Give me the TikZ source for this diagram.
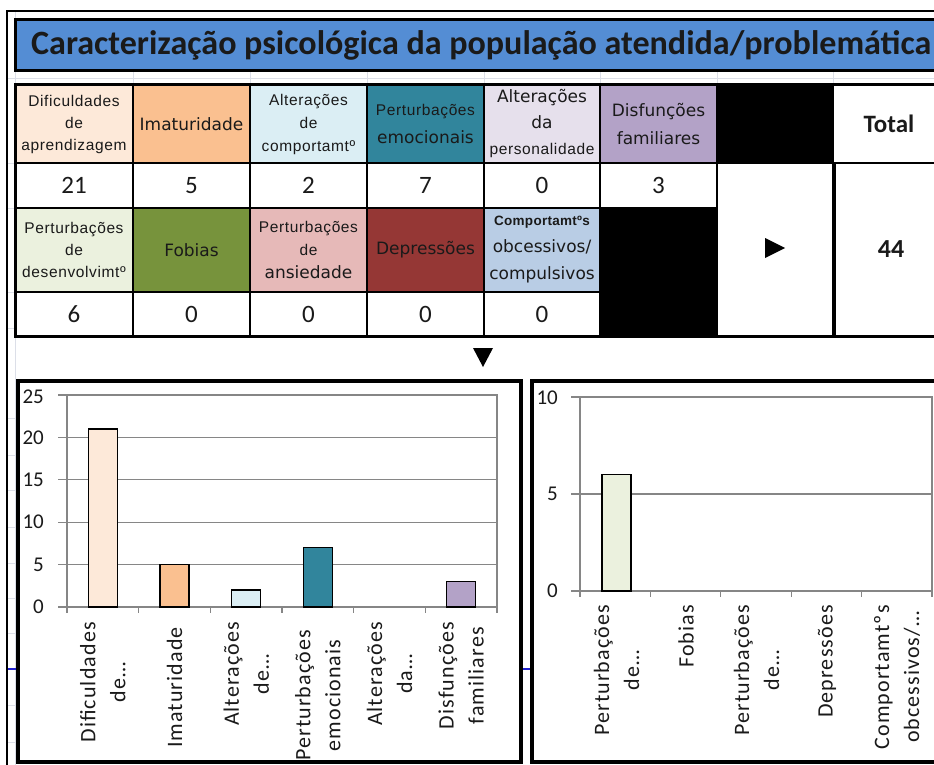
\documentclass[tikz,border=0pt]{standalone}
\usepackage{fontspec}
\usepackage{graphicx}
\setmainfont{Carlito}
\newfontfamily\arialf[LetterSpace=4]{Liberation Sans}
\newfontfamily\verdf{DejaVu Sans}
\newfontfamily\clabf[LetterSpace=5]{Carlito}
\newcommand\na{\arialf\fontsize{15.5}{22}\selectfont}
\newcommand\nv{\verdf\fontsize{17}{22}\selectfont}
\newcommand\nb{\fontspec{Liberation Sans}[LetterSpace=2]\bfseries\fontsize{13.5}{22}\selectfont}
\definecolor{titleblue}{HTML}{548DD4}
\definecolor{cA}{HTML}{FDE9D9}
\definecolor{cB}{HTML}{FAC090}
\definecolor{cC}{HTML}{DBEEF4}
\definecolor{cD}{HTML}{31859C}
\definecolor{cE}{HTML}{E6E0EC}
\definecolor{cF}{HTML}{B3A2C7}
\definecolor{cG}{HTML}{EBF1DE}
\definecolor{cH}{HTML}{77933C}
\definecolor{cI}{HTML}{E6B9B8}
\definecolor{cJ}{HTML}{953735}
\definecolor{cK}{HTML}{B9CDE5}
\definecolor{txt}{HTML}{1A1A1A}
\definecolor{axisgray}{HTML}{868686}
\definecolor{bggrid}{HTML}{DCDFE8}
\definecolor{pagebreak}{HTML}{2020D0}
\begin{document}
\begin{tikzpicture}[x=1pt,y=-1pt,
  bggridline/.style={draw=bggrid,line width=0.8pt},
  hdr/.style={draw=black,line width=2.5pt,inner sep=0pt,align=center,text=txt},
  val/.style={draw=black,line width=1.5pt,inner sep=0pt,text=txt,font=\fontsize{25}{25}\selectfont},
  chartframe/.style={draw=black,line width=4pt,fill=white},
  plotbox/.style={draw=axisgray,line width=1.2pt},
  gridln/.style={draw=axisgray,line width=1.2pt},
  barst/.style={draw=black,line width=1.5pt},
  ylab/.style={anchor=east,inner sep=0pt,text=txt,font=\fontsize{21}{21}\selectfont},
  clab/.style={rotate=90,anchor=east,align=center,inner sep=0pt,text=txt,font=\clabf\fontsize{22}{30}\selectfont}]
\useasboundingbox (0,0) rectangle (934,765);
% spreadsheet background
\draw[bggridline] (15,11) -- (15,765);
\draw[bggridline] (7,78) -- (950,78);
\foreach \x in {133,250,367,484,600,717,833} \draw[bggridline] (\x,71) -- (\x,85);
\foreach \y in {163,208,292,328,418,455,490,527,563,598,633,705,742} \draw[bggridline] (7,\y) -- (15,\y);
\draw[draw=pagebreak,line width=2pt] (7,669) -- (950,669);
\draw[line width=1.2pt] (7,765) -- (7,11) -- (950,11);
% title
\node[draw=black,line width=3pt,fill=titleblue,minimum width=935pt,minimum height=51pt,inner sep=0pt] (title) at (482.5,45.5) {};
\node[anchor=base west,inner sep=0pt,text=txt,font=\fontsize{31}{31}\selectfont\bfseries] (titletext) at (31,55)
  {\resizebox{900pt}{!}{Caracterização psicológica da população atendida/problemática}};
% values row 1
\node[val,minimum width=118pt,minimum height=45pt] (v1) at (74,185.5) {21};
\node[val,minimum width=117pt,minimum height=45pt] (v2) at (191.5,185.5) {5};
\node[val,minimum width=117pt,minimum height=45pt] (v3) at (308.5,185.5) {2};
\node[val,minimum width=117pt,minimum height=45pt] (v4) at (425.5,185.5) {7};
\node[val,minimum width=116pt,minimum height=45pt] (v5) at (542,185.5) {0};
\node[val,minimum width=117pt,minimum height=45pt] (v6) at (658.5,185.5) {3};
\node[val,minimum width=116pt,minimum height=173pt] (m1) at (775,249.5) {};
\node[val,minimum width=112pt,minimum height=173pt,font=\fontsize{26}{26}\selectfont\bfseries] (m2) at (891,249.5) {44};
% values row 2
\node[val,minimum width=118pt,minimum height=44pt] (w1) at (74,314) {6};
\node[val,minimum width=117pt,minimum height=44pt] (w2) at (191.5,314) {0};
\node[val,minimum width=117pt,minimum height=44pt] (w3) at (308.5,314) {0};
\node[val,minimum width=117pt,minimum height=44pt] (w4) at (425.5,314) {0};
\node[val,minimum width=116pt,minimum height=44pt] (w5) at (542,314) {0};
% headers row 1
\node[hdr,fill=cA,minimum width=118pt,minimum height=78pt,font=\fontsize{15.5}{22}\selectfont] (h1) at (74,124) {\na Dificuldades\\\na de\\\na aprendizagem};
\node[hdr,fill=cB,minimum width=117pt,minimum height=78pt] (h2) at (191.5,124) {\nv Imaturidade};
\node[hdr,fill=cC,minimum width=117pt,minimum height=78pt,font=\fontsize{15.5}{23}\selectfont] (h3) at (308.5,124) {\na Alterações\\\na de\\\na comportamtº};
\node[hdr,fill=cD,minimum width=117pt,minimum height=78pt,font=\fontsize{15.5}{28}\selectfont] (h4) at (425.5,124) {\na Perturbações\\\nv emocionais};
\node[hdr,fill=cE,minimum width=116pt,minimum height=78pt,font=\fontsize{15.5}{26}\selectfont] (h5) at (542,124) {\nv Alterações\\\nv da\\\na personalidade};
\node[hdr,fill=cF,minimum width=117pt,minimum height=78pt,font=\fontsize{15.5}{28}\selectfont] (h6) at (658.5,124) {\nv Disfunções\\\nv familiares};
\node[hdr,fill=black,minimum width=116pt,minimum height=78pt] (hx) at (775,124) {};
\node[hdr,fill=white,minimum width=112pt,minimum height=78pt,font=\fontsize{25}{25}\selectfont\bfseries] (htot) at (889,124) {Total};
% headers row 2
\node[hdr,fill=cG,minimum width=118pt,minimum height=84pt,font=\fontsize{15.5}{22}\selectfont] (g1) at (74,250) {\na Perturbações\\\na de\\\na desenvolvimtº};
\node[hdr,fill=cH,minimum width=117pt,minimum height=84pt] (g2) at (191.5,250) {\nv Fobias};
\node[hdr,fill=cI,minimum width=117pt,minimum height=84pt,font=\fontsize{15.5}{23}\selectfont] (g3) at (308.5,250) {\na Perturbações\\\na de\\\nv ansiedade};
\node[hdr,fill=cJ,minimum width=117pt,minimum height=84pt] (g4) at (425.5,250) {\nv Depressões};
\node[hdr,fill=cK,minimum width=116pt,minimum height=84pt,font=\fontsize{15.5}{27}\selectfont] (g5) at (542,250) {\nb Comportamtºs\\\nv obcessivos/\\\nv compulsivos};
\node[hdr,fill=black,minimum width=117pt,minimum height=128pt] (gx) at (658.5,272) {};
% outer border of table
\draw[line width=3pt] (15,85) rectangle (950,336);
% arrows
\fill[black] (765,238) -- (785,248) -- (765,258) -- cycle;
\fill[black] (473,348) -- (493,348) -- (483,367) -- cycle;
% ---------- left chart ----------
\draw[chartframe] (18,381) rectangle (521,762);
\foreach \yy in {395,437.4,479.8,522.2,564.6} \draw[gridln] (58,\yy) -- (497,\yy);
\draw[plotbox] (67,395) rectangle (497,607);
\draw[gridln] (58,607) -- (497,607);
\draw[gridln] (67,395) -- (67,613);
\foreach \xx in {138.67,210.33,282,353.67,425.33,497} \draw[gridln] (\xx,607) -- (\xx,613);
\draw[barst,fill=cA] (88.3,607) rectangle (117.3,428.9);
\draw[barst,fill=cB] (160,607) rectangle (189,564.6);
\draw[barst,fill=cC] (231.7,607) rectangle (260.7,590);
\draw[barst,fill=cD] (303.3,607) rectangle (332.3,547.6);
\draw[barst,fill=cF] (446.7,607) rectangle (475.7,581.6);
\node[ylab] (la25) at (44,397) {25};
\node[ylab] (la20) at (44,438) {20};
\node[ylab] (la15) at (44,480) {15};
\node[ylab] (la10) at (44,522) {10};
\node[ylab] (la5) at (44,565) {5};
\node[ylab] (la0) at (44,607) {0};
\node[clab] (lc1) at (102.8,622) {Dificuldades\\de…};
\node[clab] (lc2) at (174.5,627) {Imaturidade};
\node[clab] (lc3) at (246.2,622) {Alterações\\de…};
\node[clab] (lc4) at (317.8,630) {Perturbações\\emocionais};
\node[clab] (lc5) at (389.5,622) {Alterações\\da…};
\node[clab] (lc6) at (461.2,622) {Disfunções\\familiares};
% ---------- right chart ----------
\draw[chartframe] (532,381) rectangle (955,762);
\draw[gridln] (571,494) -- (932,494);
\draw[gridln] (571,397) -- (580,397);
\draw[plotbox] (580,397) rectangle (932,591);
\draw[gridln] (571,591) -- (932,591);
\draw[gridln] (580,397) -- (580,597);
\foreach \xx in {650.4,720.8,791.2,861.6,932} \draw[gridln] (\xx,591) -- (\xx,597);
\draw[barst,fill=cG] (602,591) rectangle (631,474.6);
\node[ylab] (ra10) at (558,398) {10};
\node[ylab] (ra5) at (558,494) {5};
\node[ylab] (ra0) at (558,591) {0};
\node[clab] (rc1) at (616.5,605) {Perturbações\\de…};
\node[clab] (rc2) at (686,605) {Fobias};
\node[clab] (rc3) at (756.5,605) {Perturbações\\de…};
\node[clab] (rc4) at (827,605) {Depressões};
\node[clab] (rc5) at (897,605) {Comportamtºs\\obcessivos/…};
\end{tikzpicture}
\end{document}
